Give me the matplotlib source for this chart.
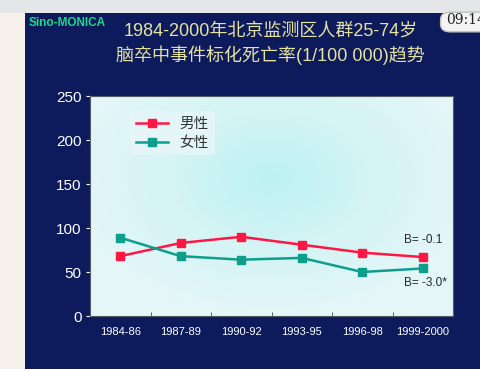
import numpy as np
import matplotlib.pyplot as plt
from matplotlib.patches import Rectangle, FancyBboxPatch
from matplotlib.colors import LinearSegmentedColormap

plt.rcParams['font.family'] = ['Liberation Sans', 'Noto Sans CJK SC', 'DejaVu Sans']

# ----- Dati -----
periodi = ["1984-86", "1987-89", "1990-92", "1993-95", "1996-98", "1999-2000"]
maschi = [68, 83, 90, 81, 72, 67]
femmine = [89, 68, 64, 66, 50, 54]
etichetta_m = "男性"
etichetta_f = "女性"
b_maschi = "B= -0.1"
b_femmine = "B= -3.0*"

navy = "#0d1b5c"
giallo = "#e6e2a2"

fig = plt.figure(figsize=(4.8, 3.69), dpi=100)
fig.patch.set_facecolor(navy)

# bordi dello schermo
fig.patches.append(Rectangle((0, 1 - 13/369), 1, 13/369, transform=fig.transFigure,
                             facecolor="#e4e6ea", edgecolor="none", zorder=0))
fig.patches.append(Rectangle((0, 0), 25/480, 1 - 13/369, transform=fig.transFigure,
                             facecolor="#f6f1ea", edgecolor="none", zorder=0))
fig.patches.append(FancyBboxPatch((443/480, 1 - 30/369), 45/480, 16/369,
                                  boxstyle="round,pad=0.005,rounding_size=0.02",
                                  transform=fig.transFigure, facecolor="#f4f4f4",
                                  edgecolor="#c0c0c0", zorder=1))
fig.text(446/480, 1 - 20/369, "09:14", color="#202020", fontsize=10,
         family="DejaVu Serif", va="center", ha="left")

fig.text(29/480, 1 - 23/369, "Sino-MONICA", color="#1fd98a", fontsize=8.5,
         fontweight="bold", va="center", ha="left")
fig.text(271/480, 1 - 31/369, "1984-2000年北京监测区人群25-74岁", color=giallo,
         fontsize=13, ha="center", va="center")
fig.text(270/480, 1 - 55/369, "脑卒中事件标化死亡率(1/100 000)趋势", color=giallo,
         fontsize=13, ha="center", va="center")

ax = fig.add_axes([90/480, 1 - 316/369, 363/480, 220/369])
x = np.arange(len(periodi))

# sfondo sfumato del grafico
gx, gy = np.meshgrid(np.linspace(-1, 1, 200), np.linspace(-1, 1, 200))
r = np.sqrt((gx * 0.9) ** 2 + ((gy - 0.25) * 0.8) ** 2)
ax.imshow(np.clip(r, 0, 1), extent=(-0.5, len(periodi) - 0.5, 0, 250),
          aspect="auto", origin="lower", zorder=0,
          cmap=LinearSegmentedColormap.from_list(
              "bg", ["#bdf2f2", "#d4f4f5", "#e4f6f8"]))

ax.plot(x, maschi, color="#ff1744", marker="s", markersize=6, linewidth=1.8,
        label=etichetta_m, zorder=3)
ax.plot(x, femmine, color="#0e9f8c", marker="s", markersize=6, linewidth=1.8,
        label=etichetta_f, zorder=3)

ax.annotate(b_maschi, (x[-1], maschi[-1]), xytext=(0, 8), textcoords="offset points",
            ha="center", va="bottom", fontsize=8.5, color="#202830")
ax.annotate(b_femmine, (x[-1], femmine[-1]), xytext=(2, -6), textcoords="offset points",
            ha="center", va="top", fontsize=8.5, color="#202830")

ax.set_xlim(-0.5, len(periodi) - 0.5)
ax.set_ylim(0, 250)
ax.set_yticks(range(0, 251, 50))
ax.set_xticks(x)
ax.set_xticklabels(periodi)
ax.set_xticks(np.arange(0.5, len(periodi) - 0.5), minor=True)
ax.tick_params(axis="x", which="major", length=0, colors="white", labelsize=8, pad=8)
ax.tick_params(axis="x", which="minor", direction="in", length=3, color="#444")
ax.tick_params(axis="y", colors="white", labelsize=11, length=3, pad=3)
for s in ax.spines.values():
    s.set_color("#555c66")
    s.set_linewidth(0.8)

leg = ax.legend(loc="upper left", bbox_to_anchor=(0.11, 0.93), frameon=True,
                fontsize=10.5, handlelength=2.2, borderaxespad=0, labelspacing=0.3)
leg.get_frame().set_facecolor("#e8f6f8")
leg.get_frame().set_edgecolor("none")
for t in leg.get_texts():
    t.set_color("#333")

plt.savefig("out.png", dpi=100, facecolor=fig.get_facecolor())
